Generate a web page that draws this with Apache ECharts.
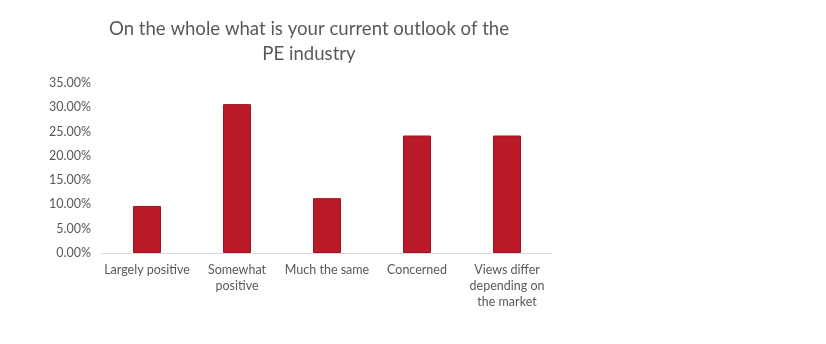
<!DOCTYPE html>
<html>
<head>
<meta charset="utf-8">
<script src="https://cdn.jsdelivr.net/npm/echarts@6/dist/echarts.min.js"></script>
<style>
html,body{margin:0;padding:0;background:#fff;}
#chart{width:826px;height:344px;}
</style>
</head>
<body>
<div id="chart"></div>
<script>
const categories = ['Largely positive', 'Somewhat\npositive', 'Much the same', 'Concerned', 'Views differ\ndepending on\nthe market'];
const values = [9.68, 30.65, 11.29, 24.19, 24.19];
const yTicks = [0, 5, 10, 15, 20, 25, 30, 35];

const chart = echarts.init(document.getElementById('chart'));
chart.setOption({
  animation: false,
  title: {
    text: 'On the whole what is your current outlook of the\nPE industry',
    left: 304,
    top: 11,
    textAlign: 'center',
    textStyle: {
      fontFamily: 'Lato, "Open Sans", sans-serif',
      fontSize: 18.6,
      fontWeight: 'normal',
      color: '#595959',
      lineHeight: 25
    }
  },
  grid: { left: 102, right: 274, top: 83, bottom: 91 },
  xAxis: {
    type: 'category',
    data: categories,
    axisLine: { lineStyle: { color: '#D9D9D9', width: 1 } },
    axisTick: { show: false },
    axisLabel: {
      interval: 0,
      margin: 9,
      color: '#595959',
      fontFamily: 'Lato, "Open Sans", sans-serif',
      fontSize: 12.5,
      lineHeight: 16,
      align: 'center'
    }
  },
  yAxis: {
    type: 'value',
    min: yTicks[0],
    max: yTicks[yTicks.length - 1],
    interval: 5,
    axisLine: { show: false },
    axisTick: { show: false },
    splitLine: { show: false },
    axisLabel: {
      margin: 11,
      color: '#595959',
      fontFamily: 'Lato, "Open Sans", sans-serif',
      fontSize: 12.5,
      formatter: v => v.toFixed(2) + '%'
    }
  },
  series: [{
    type: 'bar',
    data: values,
    barWidth: 28,
    itemStyle: { color: '#BA1A28', borderColor: '#A3121F', borderWidth: 1 }
  }]
});
</script>
</body>
</html>
